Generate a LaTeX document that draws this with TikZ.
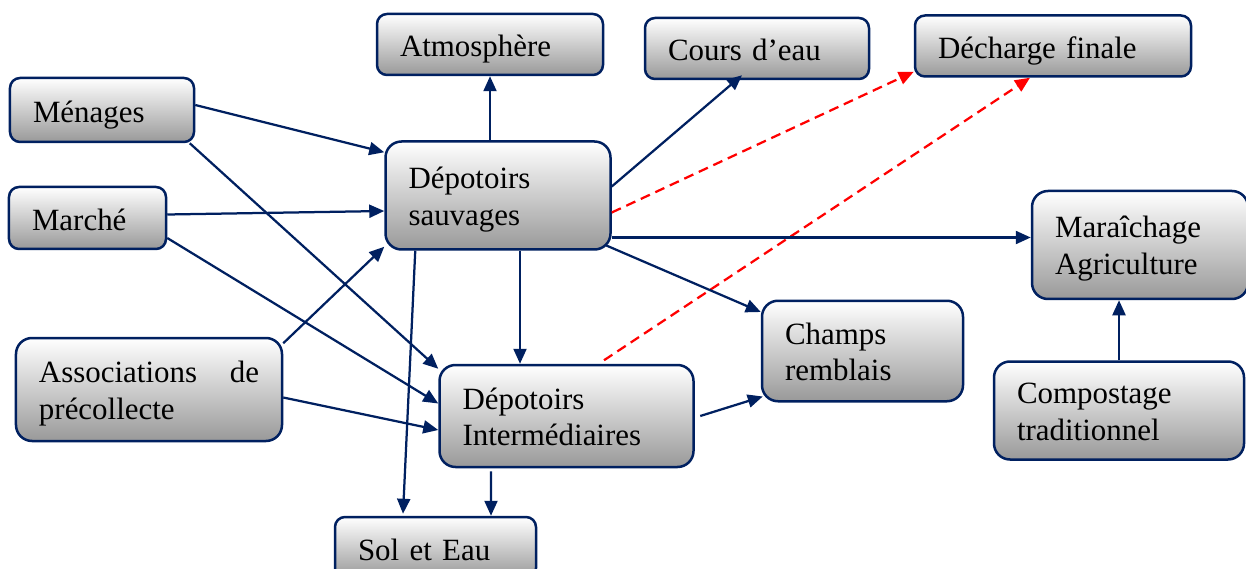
\documentclass[tikz,border=0pt]{standalone}
\usepackage{fontspec}
\setmainfont{Liberation Serif}
\usepackage{xcolor}
\usetikzlibrary{arrows.meta}
\definecolor{boxblue}{RGB}{0,32,96}

\begin{document}
\begin{tikzpicture}
\tikzstyle{mybox}=[rectangle,draw=boxblue,line width=0.05cm,rounded corners=0.2cm,top color=white,bottom color=black!40,inner xsep=0.46cm,align=left,text height=0.5cm,text depth=0pt,font=\fontsize{17.6}{21}\selectfont];
\tikzstyle{mybigbox}=[mybox,rounded corners=0.32cm,text depth=0.78cm];
\tikzstyle{myarrows}=[-{Triangle[length=0.3cm,width=0.26cm]},color=boxblue,line width=0.045cm];
\tikzstyle{redarrows}=[-{Triangle[length=0.3cm,width=0.26cm]},color=red,dash pattern=on 0.2cm off 0.12cm,line width=0.045cm];
\useasboundingbox (0,0) rectangle (24.92,-11.38);
\node[mybox,text width=2.76cm,minimum height=1.28cm](x1) at (2.04,-2.20){Ménages};
\node[mybox,text width=2.22cm,minimum height=1.24cm](x2) at (1.75,-4.36){Marché};
\node[mybigbox,text width=4.40cm,minimum height=2.06cm](x3) at (2.98,-7.79){Associations\hskip 0pt plus 1filll\relax de\\précollecte};
\node[mybox,text width=3.60cm,minimum height=1.22cm](x4) at (9.80,-0.89){Atmosphère};
\node[mybox,text width=3.56cm,minimum height=1.22cm](x5) at (15.14,-0.97){Cours d’eau};
\node[mybox,text width=4.60cm,minimum height=1.22cm](x6) at (21.06,-0.92){Décharge finale};
\node[mybigbox,text width=3.58cm,minimum height=2.16cm](x7) at (9.96,-3.91){Dépotoirs\\sauvages};
\node[mybigbox,text width=3.40cm,minimum height=2.16cm](x8) at (22.80,-4.90){Maraîchage\\Agriculture};
\node[mybigbox,text width=3.10cm,minimum height=2.01cm](x9) at (17.25,-7.02){Champs\\remblais};
\node[mybigbox,text width=4.16cm,minimum height=2.04cm](x10) at (11.33,-8.32){Dépotoirs\\Intermédiaires};
\node[mybigbox,text width=4.08cm,minimum height=1.96cm](x11) at (22.38,-8.21){Compostage\\traditionnel};
\node[mybox,text width=3.10cm,minimum height=1.22cm](x12) at (8.71,-10.95){Sol et Eau};
\draw [myarrows] ([yshift=0.1cm]x1.east) -- ([yshift=-0.24cm]x7.north west);
\draw [myarrows] ([xshift=-0.11cm]x1.south east) -- ([yshift=-0.1cm]x10.north west);
\draw [myarrows] ([yshift=0.07cm]x2.east) -- ([yshift=-0.31cm]x7.west);
\draw [myarrows] ([yshift=-0.4cm]x2.east) -- ([yshift=0.25cm]x10.west);
\draw [myarrows] ([yshift=-0.13cm]x3.north east) -- ([yshift=0.08cm]x7.south west);
\draw [myarrows] ([yshift=-0.16cm]x3.east) -- ([yshift=-0.28cm]x10.west);
\draw [myarrows] (x7.north -| x4.south) -- (x4.south);
\draw [myarrows] ([yshift=0.18cm]x7.east) -- ([xshift=-0.3cm,yshift=0.1cm]x5.south);
\draw [redarrows] ([yshift=-0.34cm]x7.east) -- ([yshift=0.12cm]x6.south west);
\draw [redarrows] ([xshift=0.75cm,yshift=0.07cm]x10.north) -- ([xshift=-0.46cm]x6.south);
\draw [myarrows] ([yshift=-0.84cm]x7.east) -- ([yshift=0.15cm]x8.west);
\draw [myarrows] ([xshift=-0.12cm,yshift=0.11cm]x7.south east) -- ([yshift=-0.25cm]x9.north west);
\draw [myarrows] ([xshift=0.44cm]x7.south) -- ([xshift=-0.93cm]x10.north);
\draw [myarrows] ([xshift=0.62cm]x7.south west) -- ([xshift=-0.65cm,yshift=0.04cm]x12.north);
\draw [myarrows] ([xshift=-1.51cm,yshift=-0.06cm]x10.south) -- ([xshift=1.11cm]x12.north);
\draw [myarrows] ([xshift=0.11cm]x10.east) -- ([xshift=0.04cm,yshift=0.12cm]x9.south west);
\draw [myarrows] (x11.north) -- (x11.north |- x8.south);
\end{tikzpicture}
\end{document}
